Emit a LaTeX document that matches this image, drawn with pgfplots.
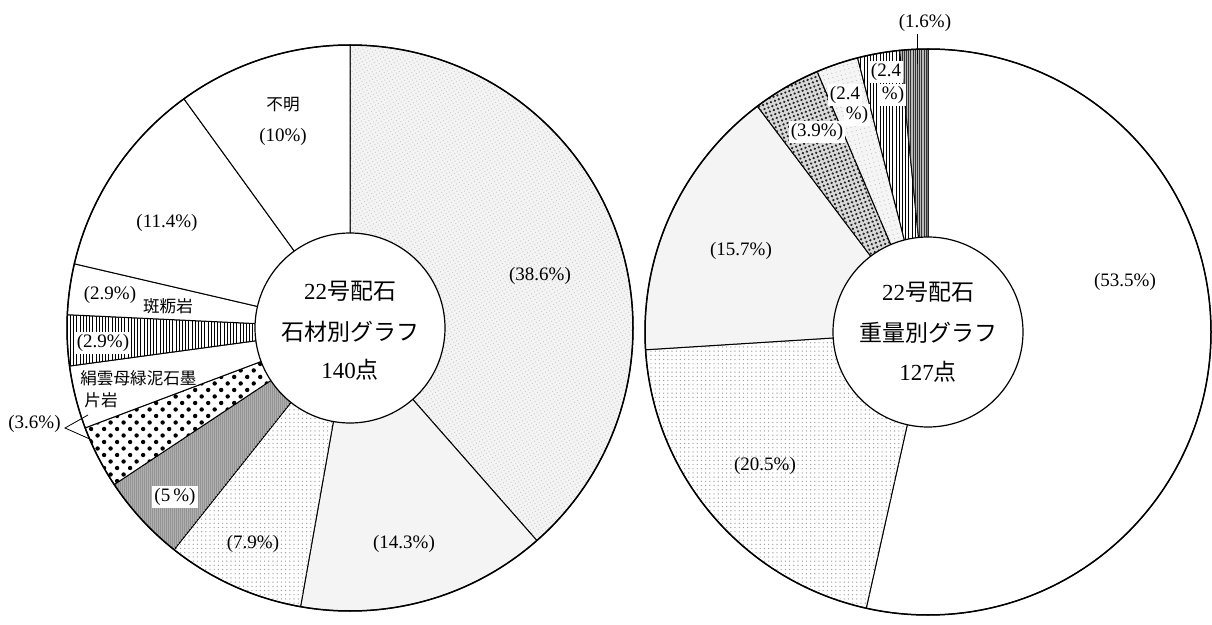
\documentclass[border=0pt]{standalone}
\usepackage{pgfplots}
\pgfplotsset{compat=1.18}
\usepackage{pgfplotstable}
\usetikzlibrary{patterns.meta}
\usepackage{fontspec}
\setmainfont{Liberation Serif}
\newfontfamily\cjk{Noto Sans CJK JP}

% slice shares, clockwise from 12 o'clock
\pgfplotstableread{
val  sty
38.6 pStip
14.3 pGray
7.9  pFine
5.0  pDark
3.6  pBig
3.6  pWhite
2.9  pVert
2.9  pWhite
11.4 pWhite
10.0 pWhite
}\stone
\pgfplotstableread{
val  sty
53.5 pWhite
20.5 pFine
15.7 pGray
3.9  pSand
2.4  pLight
2.4  pVert
1.6  pDarkV
}\weight

\tikzset{
  pWhite/.style={fill=white},
  pGray/.style={fill=gray!9},
  pStip/.style={fill=gray!9,postaction={pattern={Dots[radius=0.35pt,distance=1.7pt,angle=30]},pattern color=gray!40}},
  pFine/.style={fill=white,postaction={pattern={Dots[radius=0.35pt,distance=2.1pt]},pattern color=gray!75}},
  pDark/.style={fill=gray!62,postaction={pattern={Lines[angle=90,distance=1pt,line width=0.3pt]},pattern color=gray!85}},
  pBig/.style={fill=white,postaction={pattern={Dots[radius=1.1pt,distance=4.6pt,angle=45]},pattern color=black}},
  pVert/.style={fill=white,postaction={pattern={Lines[angle=90,distance=1.6pt,line width=0.35pt]},pattern color=black}},
  pSand/.style={fill=gray!30,postaction={pattern={Dots[radius=0.65pt,distance=2.1pt,angle=20]},pattern color=black!85}},
  pLight/.style={fill=gray!8,postaction={pattern={Dots[radius=0.3pt,distance=2.2pt,angle=15]},pattern color=gray!50}},
  pDarkV/.style={fill=gray!55,postaction={pattern={Lines[angle=90,distance=1.1pt,line width=0.4pt]},pattern color=black!80}},
  pct/.style={font=\fontsize{9.5}{11}\selectfont,inner sep=1pt},
  jl/.style={font=\fontsize{8.3}{10}\selectfont\cjk,inner sep=1pt},
  ctr/.style={font=\fontsize{11.5}{14}\selectfont,inner sep=0pt},
}

% #1 table, #2 #3 centre in axis units
\newcommand\pie[3]{%
  \pgfplotstablegetrowsof{#1}%
  \pgfmathtruncatemacro\nr{\pgfplotsretval-1}%
  \def\tot{0}%
  \pgfplotsforeachungrouped \i in {0,...,\nr}{%
    \pgfplotstablegetelem{\i}{val}\of{#1}%
    \pgfmathsetmacro\tot{\tot+\pgfplotsretval}}%
  \def\cum{0}%
  \pgfplotsforeachungrouped \i in {0,...,\nr}{%
    \pgfplotstablegetelem{\i}{val}\of{#1}\let\v\pgfplotsretval
    \pgfplotstablegetelem{\i}{sty}\of{#1}\let\s\pgfplotsretval
    \pgfmathsetmacro\aS{90-360*(\cum/\tot)}%
    \pgfmathsetmacro\cum{\cum+\v}%
    \pgfmathsetmacro\aE{90-360*(\cum/\tot)}%
    \edef\cmd{\noexpand\filldraw[\s,draw=black,line width=0.5pt]
      (axis cs:#2,#3) -- ++(\aS:141.5pt)
      arc[start angle=\aS,end angle=\aE,radius=141.5pt] -- cycle;}%
    \cmd}%
  \draw[line width=0.75pt] (axis cs:#2,#3) circle[radius=141.5pt];
  \filldraw[fill=white,draw=black,line width=0.6pt] (axis cs:#2,#3) circle[radius=47.5pt];
}

\begin{document}
\begin{tikzpicture}
\begin{axis}[x=0.5pt,y=0.5pt,xmin=0,xmax=1212,ymin=0,ymax=624,
  hide axis,clip=false]
\path (axis cs:0,0) rectangle (axis cs:1212,624);
\pie{\stone}{350}{296}
\pie{\weight}{928}{292}

% left labels
\node[ctr] at (axis cs:350,333) {22{\cjk 号配石}};
\node[ctr] at (axis cs:350,292) {{\cjk 石材別グラフ}};
\node[ctr] at (axis cs:350,254) {140{\cjk 点}};
\node[pct] at (axis cs:540,348) {(38.6\%)};
\node[pct] at (axis cs:404,80) {(14.3\%)};
\node[pct] at (axis cs:253,80) {(7.9\%)};
\node[pct,fill=white] at (axis cs:175,127) {(5\,\%)};
\node[pct,anchor=east] at (axis cs:63,200) {(3.6\%)};
\draw[line width=0.4pt] (axis cs:88,209) -- (axis cs:65,196) -- (axis cs:92,184);
\node[jl,anchor=west] at (axis cs:78,246) {絹雲母緑泥石墨};
\node[jl,anchor=west] at (axis cs:82,224) {片岩};
\node[pct,fill=white] at (axis cs:103,281) {(2.9\%)};
\node[pct] at (axis cs:110,329) {(2.9\%)};
\node[jl] at (axis cs:168,318) {斑粝岩};
\node[pct] at (axis cs:167,401) {(11.4\%)};
\node[jl] at (axis cs:283,519) {不明};
\node[pct] at (axis cs:283,487) {(10\%)};

% right labels
\node[ctr] at (axis cs:928,332) {22{\cjk 号配石}};
\node[ctr] at (axis cs:928,291) {{\cjk 重量別グラフ}};
\node[ctr] at (axis cs:928,252) {127{\cjk 点}};
\node[pct] at (axis cs:1125,342) {(53.5\%)};
\node[pct] at (axis cs:765,158) {(20.5\%)};
\node[pct] at (axis cs:741,373) {(15.7\%)};
\node[pct,fill=white] at (axis cs:817,492) {(3.9\%)};
\node[pct,fill=white] at (axis cs:845,529) {(2.4};
\node[pct,fill=white] at (axis cs:857,509) {\%)};
\node[pct,fill=white] at (axis cs:886,552) {(2.4};
\node[pct,fill=white] at (axis cs:893,529) {\%)};
\node[pct] at (axis cs:925,601) {(1.6\%)};
\draw[line width=0.4pt] (axis cs:917,590) -- (axis cs:917,560);
\end{axis}
\end{tikzpicture}
\end{document}
